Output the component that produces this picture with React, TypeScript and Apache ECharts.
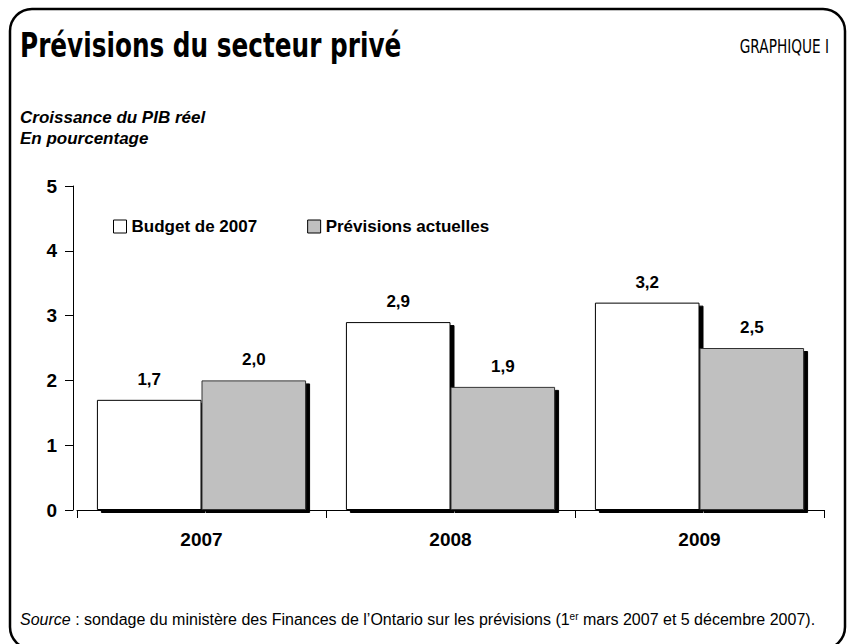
import React, { useEffect, useRef } from "react";
import * as echarts from "echarts";

const categories = ["2007", "2008", "2009"];
const budget2007 = [1.7, 2.9, 3.2];
const previsionsActuelles = [2.0, 1.9, 2.5];
const seriesNames = ["Budget de 2007", "Prévisions actuelles"];
const yTicks = [0, 1, 2, 3, 4, 5];

const ARIAL = '"Liberation Sans", Arial, sans-serif';
const SANS = '"DejaVu Sans", sans-serif';

const fmt = (v: number) => v.toFixed(1).replace(".", ",");

export default function App() {
  const ref = useRef<HTMLDivElement>(null);
  useEffect(() => {
    if (!ref.current) return;
    const chart = echarts.init(ref.current, undefined, { renderer: "svg" });
    const labelCfg = {
      show: true,
      position: "top" as const,
      distance: 12,
      fontFamily: ARIAL,
      fontWeight: "bold" as const,
      fontSize: 17,
      color: "#000",
      formatter: (p: any) => fmt(p.value),
    };
    const shadow = {
      shadowColor: "#000",
      shadowBlur: 0,
      shadowOffsetX: 4,
      shadowOffsetY: 3,
    };
    chart.setOption({
      animation: false,
      backgroundColor: "#fff",
      graphic: [
        {
          type: "rect",
          shape: { x: 10, y: 9, width: 835, height: 640, r: 22 },
          style: { fill: "none", stroke: "#000", lineWidth: 2.5 },
          silent: true,
        },
        {
          type: "text",
          x: 20,
          y: 46,
          scaleX: 0.75,
          style: {
            text: "Prévisions du secteur privé",
            font: `bold 33px ${SANS}`,
            fill: "#000",
            textAlign: "left",
            textVerticalAlign: "middle",
          },
        },
        {
          type: "text",
          x: 829,
          y: 47,
          scaleX: 0.72,
          style: {
            text: "GRAPHIQUE I",
            font: `19px ${SANS}`,
            fill: "#000",
            textAlign: "right",
            textVerticalAlign: "middle",
          },
        },
        {
          type: "text",
          left: 20,
          top: 107,
          style: {
            text: "Croissance du PIB réel\nEn pourcentage",
            font: `italic bold 17px ${ARIAL}`,
            lineHeight: 21,
            fill: "#000",
          },
        },
        {
          type: "text",
          left: 20,
          top: 611,
          style: {
            text:
              "{i|Source} : sondage du ministère des Finances de l’Ontario sur les prévisions (1{sup|er} mars 2007 et 5 décembre 2007).",
            font: `16px ${ARIAL}`,
            fill: "#000",
            rich: {
              i: { fontStyle: "italic", fontSize: 16, fontFamily: ARIAL },
              sup: { fontSize: 10, fontFamily: ARIAL, verticalAlign: "top", padding: [0, 0, 7, 0] },
            },
          },
        },
      ],
      legend: {
        left: 108,
        top: 213,
        itemWidth: 13,
        itemHeight: 13,
        itemGap: 50,
        icon: "rect",
        data: seriesNames,
        textStyle: { fontFamily: ARIAL, fontWeight: "bold", fontSize: 17, color: "#000" },
        itemStyle: { shadowColor: "transparent", shadowOffsetX: 0, shadowOffsetY: 0, borderWidth: 1, borderColor: "#000" },
      },
      grid: { left: 77, right: 23, top: 186, bottom: 134, containLabel: false },
      xAxis: {
        type: "category",
        data: categories,
        axisLine: { lineStyle: { color: "#000", width: 1 } },
        axisTick: { show: true, length: 8, lineStyle: { color: "#000" } },
        axisLabel: {
          fontFamily: ARIAL,
          fontWeight: "bold",
          fontSize: 19,
          color: "#000",
          margin: 20,
        },
      },
      yAxis: {
        type: "value",
        min: yTicks[0],
        max: yTicks[yTicks.length - 1],
        interval: 1,
        offset: 4,
        axisLine: { show: true, lineStyle: { color: "#000", width: 1 } },
        axisTick: { show: true, length: 8, inside: false, lineStyle: { color: "#000" } },
        splitLine: { show: false },
        axisLabel: {
          fontFamily: ARIAL,
          fontWeight: "bold",
          fontSize: 19,
          color: "#000",
          margin: 16,
        },
      },
      series: [
        {
          name: seriesNames[0],
          type: "bar",
          data: budget2007,
          barGap: "0%",
          barCategoryGap: "16%",
          itemStyle: { color: "#ffffff", borderColor: "#000", borderWidth: 1, ...shadow },
          label: labelCfg,
        },
        {
          name: seriesNames[1],
          type: "bar",
          data: previsionsActuelles,
          barGap: "0%",
          barCategoryGap: "16%",
          itemStyle: { color: "#c0c0c0", borderColor: "#333", borderWidth: 1, ...shadow },
          label: labelCfg,
        },
      ],
    });
    return () => chart.dispose();
  }, []);
  return (
    <div
      ref={ref}
      style={{ position: "fixed", left: 0, top: 0, width: 847, height: 644, background: "#fff" }}
    />
  );
}
